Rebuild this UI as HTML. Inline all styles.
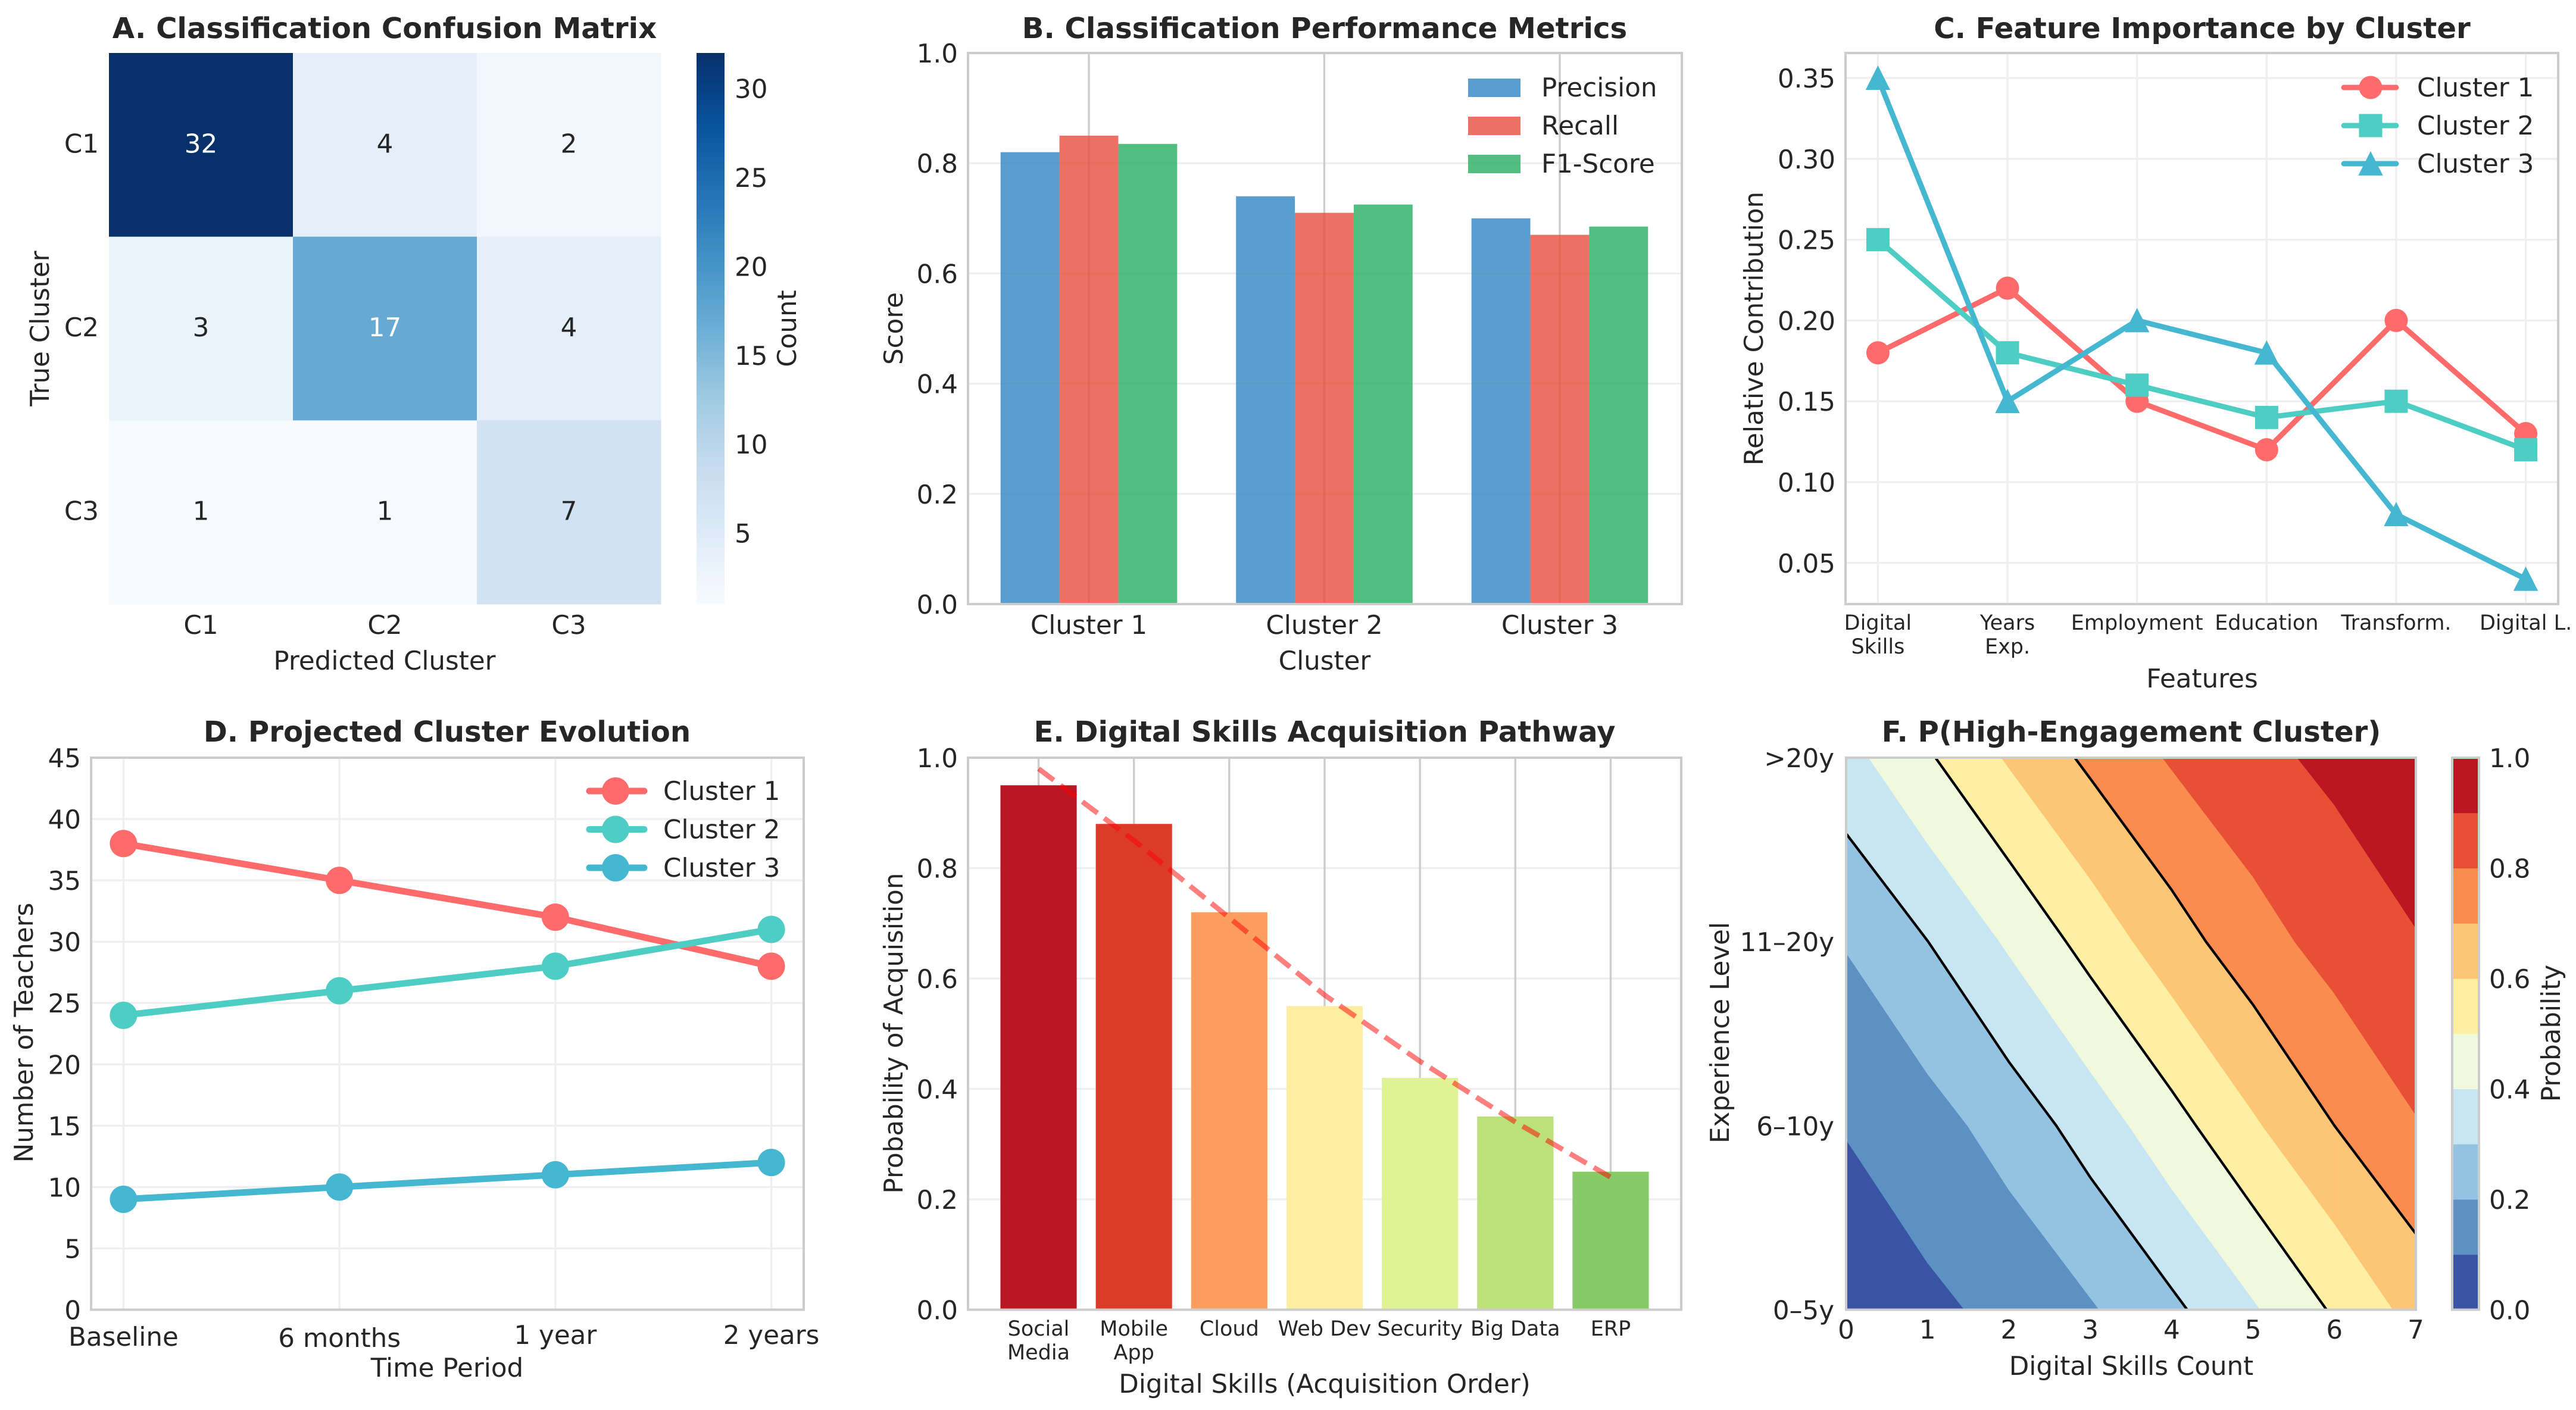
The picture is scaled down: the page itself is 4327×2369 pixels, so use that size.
<!DOCTYPE html>
<html lang="en">
<head>
<meta charset="utf-8">
<title>Teacher digital skills cluster analysis</title>
<style>
html,body{margin:0;padding:0;background:#fff;}
svg{display:block;font-family:"DejaVu Sans","Liberation Sans",sans-serif;text-rendering:geometricPrecision;}
.t{fill:#262626;font-size:43.6px;}
.title{fill:#262626;font-size:48.2px;font-weight:700;text-anchor:middle;}
.m{text-anchor:middle;}
</style>
</head>
<body>
<svg id="fig" xmlns="http://www.w3.org/2000/svg" width="4327" height="2369" viewBox="0 0 4327 2369">
  <rect x="0" y="0" width="4327" height="2369" fill="#ffffff"/>
  <defs>
    <linearGradient id="bluesGrad" x1="0" y1="1" x2="0" y2="0"></linearGradient>
    <clipPath id="clipF"><rect x="3101" y="1273" width="957" height="928"></rect></clipPath>
  </defs>

  <g id="panelA">
    <text class="title" x="646" y="64">A. Classification Confusion Matrix</text>
    <text class="t m" x="646" y="1125">Predicted Cluster</text>
    <text class="t m" transform="translate(82,552) rotate(-90)">True Cluster</text>
    <text class="t m" transform="translate(1337,552) rotate(-90)">Count</text>
  </g>
  <g id="panelB">
    <text class="title" x="2225" y="64">B. Classification Performance Metrics</text>
    <text class="t m" x="2225" y="1125">Cluster</text>
    <text class="t m" transform="translate(1516,552) rotate(-90)">Score</text>
  </g>
  <g id="panelC">
    <text class="title" x="3699" y="64">C. Feature Importance by Cluster</text>
    <text class="t m" x="3699" y="1155">Features</text>
    <text class="t m" transform="translate(2961,552) rotate(-90)">Relative Contribution</text>
  </g>
  <g id="panelD">
    <text class="title" x="751" y="1246">D. Projected Cluster Evolution</text>
    <text class="t m" x="751" y="2313">Time Period</text>
    <text class="t m" transform="translate(55,1735) rotate(-90)">Number of Teachers</text>
  </g>
  <g id="panelE">
    <text class="title" x="2225" y="1246">E. Digital Skills Acquisition Pathway</text>
    <text class="t m" x="2225" y="2340">Digital Skills (Acquisition Order)</text>
    <text class="t m" transform="translate(1516,1736) rotate(-90)">Probability of Acquisition</text>
  </g>
  <g id="panelF">
    <text class="title" x="3580" y="1246">F. P(High-Engagement Cluster)</text>
    <text class="t m" x="3580" y="2310">Digital Skills Count</text>
    <text class="t m" transform="translate(2904,1735) rotate(-90)">Experience Level</text>
    <text class="t m" transform="translate(4300,1736) rotate(-90)">Probability</text>
  </g>
</svg>

<script>
/* ---------- Panel A data ---------- */
const confusionLabels = ['C1', 'C2', 'C3'];
const confusionRowC1 = [32, 4, 2];
const confusionRowC2 = [3, 17, 4];
const confusionRowC3 = [1, 1, 7];
const countTicks = [5, 10, 15, 20, 25, 30];
const countMin = 1;
const countMax = 32;

/* ---------- Panel B data ---------- */
const metricClusters = ['Cluster 1', 'Cluster 2', 'Cluster 3'];
const metricNames = ['Precision', 'Recall', 'F1-Score'];
const precisionValues = [0.82, 0.74, 0.70];
const recallValues = [0.85, 0.71, 0.67];
const f1Values = [0.835, 0.725, 0.685];
const scoreTicks = [0, 0.2, 0.4, 0.6, 0.8, 1.0];

/* ---------- Panel C data ---------- */
const featureLabels = ['Digital\nSkills', 'Years\nExp.', 'Employment', 'Education', 'Transform.', 'Digital L.'];
const featureCluster1 = [0.18, 0.22, 0.15, 0.12, 0.20, 0.13];
const featureCluster2 = [0.25, 0.18, 0.16, 0.14, 0.15, 0.12];
const featureCluster3 = [0.35, 0.15, 0.20, 0.18, 0.08, 0.04];
const featureTicks = [0.05, 0.10, 0.15, 0.20, 0.25, 0.30, 0.35];
const clusterNames = ['Cluster 1', 'Cluster 2', 'Cluster 3'];

/* ---------- Panel D data ---------- */
const periodLabels = ['Baseline', '6 months', '1 year', '2 years'];
const evolutionCluster1 = [38, 35, 32, 28];
const evolutionCluster2 = [24, 26, 28, 31];
const evolutionCluster3 = [9, 10, 11, 12];
const teacherTicks = [0, 5, 10, 15, 20, 25, 30, 35, 40, 45];

/* ---------- Panel E data ---------- */
const skillLabels = ['Social\nMedia', 'Mobile\nApp', 'Cloud', 'Web Dev', 'Security', 'Big Data', 'ERP'];
const skillProbabilities = [0.95, 0.88, 0.72, 0.55, 0.42, 0.35, 0.25];
const skillTrend = [0.98, 0.85, 0.71, 0.57, 0.45, 0.34, 0.24];

/* ---------- Panel F data ---------- */
const experienceLabels = ['0\u20135y', '6\u201310y', '11\u201320y', '>20y'];
const skillCountTicks = [0, 1, 2, 3, 4, 5, 6, 7];
const probExp0 = [0.050, 0.079, 0.125, 0.190, 0.279, 0.389, 0.512, 0.634];
const probExp1 = [0.104, 0.161, 0.240, 0.343, 0.463, 0.587, 0.700, 0.794];
const probExp2 = [0.206, 0.299, 0.413, 0.537, 0.657, 0.759, 0.839, 0.896];
const probExp3 = [0.366, 0.488, 0.611, 0.721, 0.810, 0.875, 0.921, 0.950];
const contourLevels = [0, 0.1, 0.2, 0.3, 0.4, 0.5, 0.6, 0.7, 0.8, 0.9, 1.0];
const contourLines = [0.3, 0.5, 0.7];
const probabilityTicks = [0, 0.2, 0.4, 0.6, 0.8, 1.0];

/* ---------- Styles (not data) ---------- */
const seriesColors = ['#ff6b6b', '#4ecdc4', '#45b7d1'];
const metricColors = ['#3186c3', '#e74c3c', '#27ae60'];
const skillColors = ['#b91623', '#dc3b2a', '#fc9f5e', '#fdeea2', '#e0f293', '#bbe278', '#86cb66'];
const bandColors = ['#3a54a4', '#5d90c3', '#93c3e0', '#c7e6f1', '#f0f8dd', '#feefa3', '#fdc576', '#fa8c50', '#e75034', '#bb1622'];
const bluesStops = ['#f7fbff', '#deebf7', '#c6dbef', '#9ecae1', '#6baed6', '#4292c6', '#2171b5', '#08519c', '#08306b'];
const SPINE = '#cccccc';
const GRID_LIGHT = '#efefef';
const GRID_DARK = '#cdcdcd';
const SMALL_FONT = 35;

const NS = 'http://www.w3.org/2000/svg';

function make(tag, attrs, parent) {
  const e = document.createElementNS(NS, tag);
  for (const k in attrs) e.setAttribute(k, attrs[k]);
  parent.appendChild(e);
  return e;
}
function linear(d0, d1, r0, r1) {
  return function (v) { return r0 + (v - d0) * (r1 - r0) / (d1 - d0); };
}
function label(parent, x, y, str, anchor, size, fill) {
  const e = make('text', { class: 't', x: x, y: y, 'text-anchor': anchor }, parent);
  if (size) e.style.fontSize = size + 'px';
  if (fill) e.style.fill = fill;
  const lines = String(str).split('\n');
  if (lines.length === 1) { e.textContent = lines[0]; }
  else {
    lines.forEach(function (ln, i) {
      const s = make('tspan', { x: x, dy: i === 0 ? 0 : 40 }, e);
      s.textContent = ln;
    });
  }
  return e;
}
function fmt(v, d) { return v.toFixed(d); }
function lerpHex(a, b, t) {
  const pa = [1, 3, 5].map(function (i) { return parseInt(a.substr(i, 2), 16); });
  const pb = [1, 3, 5].map(function (i) { return parseInt(b.substr(i, 2), 16); });
  return 'rgb(' + pa.map(function (c, i) { return Math.round(c + (pb[i] - c) * t); }).join(',') + ')';
}
function blues(v) {
  const t = (v - countMin) / (countMax - countMin) * (bluesStops.length - 1);
  const i = Math.min(Math.floor(t), bluesStops.length - 2);
  return lerpHex(bluesStops[i], bluesStops[i + 1], t - i);
}
function spine(parent, x0, y0, x1, y1, name) {
  const r = make('rect', { x: x0, y: y0, width: x1 - x0, height: y1 - y0, fill: 'none', stroke: SPINE, 'stroke-width': 4 }, parent);
  
  
}
function gridH(parent, x0, x1, y, color, name) {
  const l = make('line', { x1: x0, x2: x1, y1: y, y2: y, stroke: color, 'stroke-width': 3.4 }, parent);
  
  
}
function gridV(parent, x, y0, y1, color, name) {
  const l = make('line', { x1: x, x2: x, y1: y0, y2: y1, stroke: color, 'stroke-width': 3.4 }, parent);
  
  
}
function marker(parent, kind, cx, cy, size, color, name) {
  let m;
  if (kind === 'circle') {
    m = make('circle', { cx: cx, cy: cy, r: size / 2, fill: color }, parent);
  } else if (kind === 'square') {
    m = make('rect', { x: cx - size / 2, y: cy - size / 2, width: size, height: size, fill: color }, parent);
  } else {
    const d = 'M' + cx + ' ' + (cy - size * 0.54) + 'L' + (cx + size * 0.53) + ' ' + (cy + size * 0.51) + 'L' + (cx - size * 0.53) + ' ' + (cy + size * 0.51) + 'Z';
    m = make('path', { d: d, fill: color }, parent);
  }
  
  
}
function polyline(parent, xs, ys, color, width, name) {
  const pts = xs.map(function (x, i) { return x + ',' + ys[i]; }).join(' ');
  const l = make('polyline', { points: pts, fill: 'none', stroke: color, 'stroke-width': width, 'stroke-linejoin': 'round', 'stroke-linecap': 'round' }, parent);
  
  
}

/* ---------- Panel A ---------- */
(function () {
  const g = document.getElementById('panelA');
  const x0 = 183, x1 = 1110, y0 = 89, y1 = 1015;
  const matrix = [confusionRowC1, confusionRowC2, confusionRowC3];
  const cw = (x1 - x0) / confusionLabels.length, ch = (y1 - y0) / confusionLabels.length;
  matrix.forEach(function (row, r) {
    row.forEach(function (v, c) {
      const cell = make('rect', { x: x0 + c * cw, y: y0 + r * ch, width: cw + 0.5, height: ch + 0.5, fill: blues(v) }, g);
      
      
    });
  });
  matrix.forEach(function (row, r) {
    row.forEach(function (v, c) {
      const t = label(g, x0 + (c + 0.5) * cw, y0 + (r + 0.5) * ch + 13, v, 'middle', null, v > 16 ? '#ffffff' : '#262626');
      
      
    });
  });
  confusionLabels.forEach(function (lab, i) {
    const ty = label(g, 166, y0 + (i + 0.5) * ch + 13, lab, 'end');
    
    
    const tx = label(g, x0 + (i + 0.5) * cw, 1065, lab, 'middle');
    
    
  });
  const grad = document.getElementById('bluesGrad');
  bluesStops.forEach(function (c, i) {
    make('stop', { offset: i / (bluesStops.length - 1), 'stop-color': c }, grad);
  });
  const bar = make('rect', { x: 1170, y: y0, width: 47, height: y1 - y0, fill: 'url(#bluesGrad)' }, g);
  
  
  const cy = linear(countMin, countMax, y1, y0);
  countTicks.forEach(function (v) {
    const t = label(g, 1234, cy(v) + 16, v, 'start');
    
    
  });
})();

/* ---------- Panel B ---------- */
(function () {
  const g = document.getElementById('panelB');
  const x0 = 1626, x1 = 2825, y0 = 89, y1 = 1015;
  const sy = linear(0, 1, y1, y0);
  const sx = linear(-0.5133, 2.5184, x0, x1);
  const series = [precisionValues, recallValues, f1Values];
  scoreTicks.forEach(function (v) {
    gridH(g, x0, x1, sy(v), GRID_LIGHT, 'y-gridline');
    const t = label(g, 1609, sy(v) + 16, fmt(v, 1), 'end');
    
    
  });
  metricClusters.forEach(function (c, i) {
    gridV(g, sx(i), y0, y1, GRID_DARK, 'x-gridline');
  });
  const w = sx(0.25) - sx(0);
  series.forEach(function (vals, s) {
    vals.forEach(function (v, i) {
      const b = make('rect', { x: sx(i + (s - 1) * 0.25) - w / 2, y: sy(v), width: w, height: sy(0) - sy(v), fill: metricColors[s], opacity: 0.8 }, g);
      
      
    });
  });
  metricClusters.forEach(function (c, i) {
    const t = label(g, sx(i), 1065, c, 'middle');
    
    
  });
  metricNames.forEach(function (n, i) {
    const h = make('rect', { x: 2466, y: 132 + i * 64, width: 88, height: 31, fill: metricColors[i], opacity: 0.8 }, g);
    
    
    const t = label(g, 2589, 162 + i * 64, n, 'start');
    
    
  });
  spine(g, x0, y0, x1, y1, 'panel-b-frame');
})();

/* ---------- Panel C ---------- */
(function () {
  const g = document.getElementById('panelC');
  const x0 = 3100, x1 = 4297, y0 = 89, y1 = 1015;
  const sy = linear(0.0245, 0.3655, y1, y0);
  const sx = linear(-0.25, 5.25, x0, x1);
  const kinds = ['circle', 'square', 'triangle'];
  const series = [featureCluster1, featureCluster2, featureCluster3];
  featureTicks.forEach(function (v) {
    gridH(g, x0, x1, sy(v), GRID_LIGHT, 'y-gridline');
    const t = label(g, 3083, sy(v) + 16, fmt(v, 2), 'end');
    
    
  });
  featureLabels.forEach(function (f, i) {
    gridV(g, sx(i), y0, y1, GRID_LIGHT, 'x-gridline');
    const t = label(g, sx(i), 1058, f, 'middle', SMALL_FONT);
    
    
  });
  series.forEach(function (vals, s) {
    const xs = vals.map(function (v, i) { return sx(i); });
    const ys = vals.map(function (v) { return sy(v); });
    polyline(g, xs, ys, seriesColors[s], 9, 'line-cluster-' + (s + 1));
    vals.forEach(function (v, i) {
      marker(g, kinds[s], sx(i), sy(v), 39, seriesColors[s], 'point-cluster-' + (s + 1));
    });
  });
  clusterNames.forEach(function (n, i) {
    const ly = 147 + i * 64;
    polyline(g, [3937, 4025], [ly, ly], seriesColors[i], 9, 'legend-line-cluster-' + (i + 1));
    marker(g, kinds[i], 3982, ly, 39, seriesColors[i], 'legend-marker-cluster-' + (i + 1));
    const t = label(g, 4060, ly + 15, n, 'start');
    
    
  });
  spine(g, x0, y0, x1, y1, 'panel-c-frame');
})();

/* ---------- Panel D ---------- */
(function () {
  const g = document.getElementById('panelD');
  const x0 = 153, x1 = 1350, y0 = 1273, y1 = 2200.5;
  const sy = linear(0, 45, y1, y0);
  const sx = linear(-0.15, 3.15, x0, x1);
  const series = [evolutionCluster1, evolutionCluster2, evolutionCluster3];
  const baselineNudge = [1, 3, -2, -2];
  teacherTicks.forEach(function (v) {
    gridH(g, x0, x1, sy(v), GRID_LIGHT, 'y-gridline');
    const t = label(g, 136, sy(v) + 16, v, 'end');
    
    
  });
  periodLabels.forEach(function (p, i) {
    gridV(g, sx(i), y0, y1, GRID_LIGHT, 'x-gridline');
    const t = label(g, sx(i), 2260 + baselineNudge[i], p, 'middle');
    
    
  });
  series.forEach(function (vals, s) {
    const xs = vals.map(function (v, i) { return sx(i); });
    const ys = vals.map(function (v) { return sy(v); });
    polyline(g, xs, ys, seriesColors[s], 11, 'line-cluster-' + (s + 1));
    vals.forEach(function (v, i) {
      marker(g, 'circle', sx(i), sy(v), 46, seriesColors[s], 'point-cluster-' + (s + 1));
    });
  });
  clusterNames.forEach(function (n, i) {
    const ly = 1329 + i * 64.5;
    polyline(g, [990, 1082], [ly, ly], seriesColors[i], 11, 'legend-line-cluster-' + (i + 1));
    marker(g, 'circle', 1034, ly, 46, seriesColors[i], 'legend-marker-cluster-' + (i + 1));
    const t = label(g, 1114, ly + 15, n, 'start');
    
    
  });
  spine(g, x0, y0, x1, y1, 'panel-d-frame');
})();

/* ---------- Panel E ---------- */
(function () {
  const g = document.getElementById('panelE');
  const x0 = 1626, x1 = 2824, y0 = 1273, y1 = 2200.5;
  const sy = linear(0, 1, y1, y0);
  const sx = linear(-0.74, 6.74, x0, x1);
  scoreTicks.forEach(function (v) {
    gridH(g, x0, x1, sy(v), GRID_LIGHT, 'y-gridline');
    const t = label(g, 1609, sy(v) + 16, fmt(v, 1), 'end');
    
    
  });
  skillLabels.forEach(function (s, i) {
    gridV(g, sx(i), y0, y1, GRID_DARK, 'x-gridline');
  });
  const w = sx(0.8) - sx(0);
  skillProbabilities.forEach(function (v, i) {
    const b = make('rect', { x: sx(i) - w / 2, y: sy(v), width: w, height: sy(0) - sy(v), fill: skillColors[i] }, g);
    
    
  });
  skillLabels.forEach(function (s, i) {
    const t = label(g, sx(i), 2244, s, 'middle', SMALL_FONT);
    
    
  });
  const pts = skillTrend.map(function (v, i) { return sx(i) + ',' + sy(v); }).join(' ');
  const trend = make('polyline', { points: pts, fill: 'none', stroke: '#ff0000', 'stroke-width': 8.6, 'stroke-opacity': 0.5, 'stroke-dasharray': '32 14' }, g);
  
  
  spine(g, x0, y0, x1, y1, 'panel-e-frame');
})();

/* ---------- Panel F ---------- */
(function () {
  const g = document.getElementById('panelF');
  const x0 = 3101, x1 = 4058, y0 = 1273, y1 = 2200.5;
  const sx = linear(0, 7, x0, x1);
  const sy = linear(0, 3, y1, y0);
  const grid = [probExp0, probExp1, probExp2, probExp3];
  const clip = make('g', { 'clip-path': 'url(#clipF)' }, g);

  function clipPoly(poly, level, above) {
    const out = [];
    for (let i = 0; i < poly.length; i++) {
      const a = poly[i], b = poly[(i + 1) % poly.length];
      const ia = above ? a[2] >= level : a[2] <= level;
      const ib = above ? b[2] >= level : b[2] <= level;
      if (ia) out.push(a);
      if (ia !== ib) {
        const t = (level - a[2]) / (b[2] - a[2]);
        out.push([a[0] + (b[0] - a[0]) * t, a[1] + (b[1] - a[1]) * t, level]);
      }
    }
    return out;
  }
  function cellCorners(c, r) {
    return [
      [skillCountTicks[c], r, grid[r][c]],
      [skillCountTicks[c + 1], r, grid[r][c + 1]],
      [skillCountTicks[c + 1], r + 1, grid[r + 1][c + 1]],
      [skillCountTicks[c], r + 1, grid[r + 1][c]]
    ];
  }
  for (let b = 0; b < contourLevels.length - 1; b++) {
    let d = '';
    for (let r = 0; r < grid.length - 1; r++) {
      for (let c = 0; c < skillCountTicks.length - 1; c++) {
        let p = clipPoly(cellCorners(c, r), contourLevels[b], true);
        if (p.length) p = clipPoly(p, contourLevels[b + 1], false);
        if (p.length > 2) {
          d += 'M' + p.map(function (q) { return sx(q[0]).toFixed(2) + ' ' + sy(q[1]).toFixed(2); }).join('L') + 'Z';
        }
      }
    }
    const band = make('path', { d: d, fill: bandColors[b], stroke: bandColors[b], 'stroke-width': 1.2 }, clip);
    
    
  }
  contourLines.forEach(function (level) {
    let d = '';
    for (let r = 0; r < grid.length - 1; r++) {
      for (let c = 0; c < skillCountTicks.length - 1; c++) {
        const q = cellCorners(c, r), hits = [];
        for (let i = 0; i < 4; i++) {
          const a = q[i], e = q[(i + 1) % 4];
          if ((a[2] < level) !== (e[2] < level)) {
            const t = (level - a[2]) / (e[2] - a[2]);
            hits.push([a[0] + (e[0] - a[0]) * t, a[1] + (e[1] - a[1]) * t]);
          }
        }
        for (let i = 0; i + 1 < hits.length; i += 2) {
          d += 'M' + sx(hits[i][0]).toFixed(2) + ' ' + sy(hits[i][1]).toFixed(2) + 'L' + sx(hits[i + 1][0]).toFixed(2) + ' ' + sy(hits[i + 1][1]).toFixed(2);
        }
      }
    }
    const line = make('path', { d: d, fill: 'none', stroke: '#000000', 'stroke-width': 4.3, 'stroke-linecap': 'round' }, clip);
    
    
  });
  experienceLabels.forEach(function (lab, i) {
    const t = label(g, 3081, sy(i) + 16, lab, 'end');
    
    
  });
  skillCountTicks.forEach(function (v) {
    const t = label(g, sx(v), 2249, v, 'middle');
    
    
  });
  const cby = linear(0, 1, y1, y0);
  for (let b = 0; b < contourLevels.length - 1; b++) {
    const seg = make('rect', { x: 4119, y: cby(contourLevels[b + 1]), width: 45, height: cby(contourLevels[b]) - cby(contourLevels[b + 1]) + 0.5, fill: bandColors[b] }, g);
    
    
  }
  probabilityTicks.forEach(function (v) {
    const t = label(g, 4181, cby(v) + 16, fmt(v, 1), 'start');
    
    
  });
  spine(g, 4119, y0, 4164, y1, 'probability-colorbar-frame');
  spine(g, x0, y0, x1, y1, 'panel-f-frame');
})();
</script>
</body>
</html>
